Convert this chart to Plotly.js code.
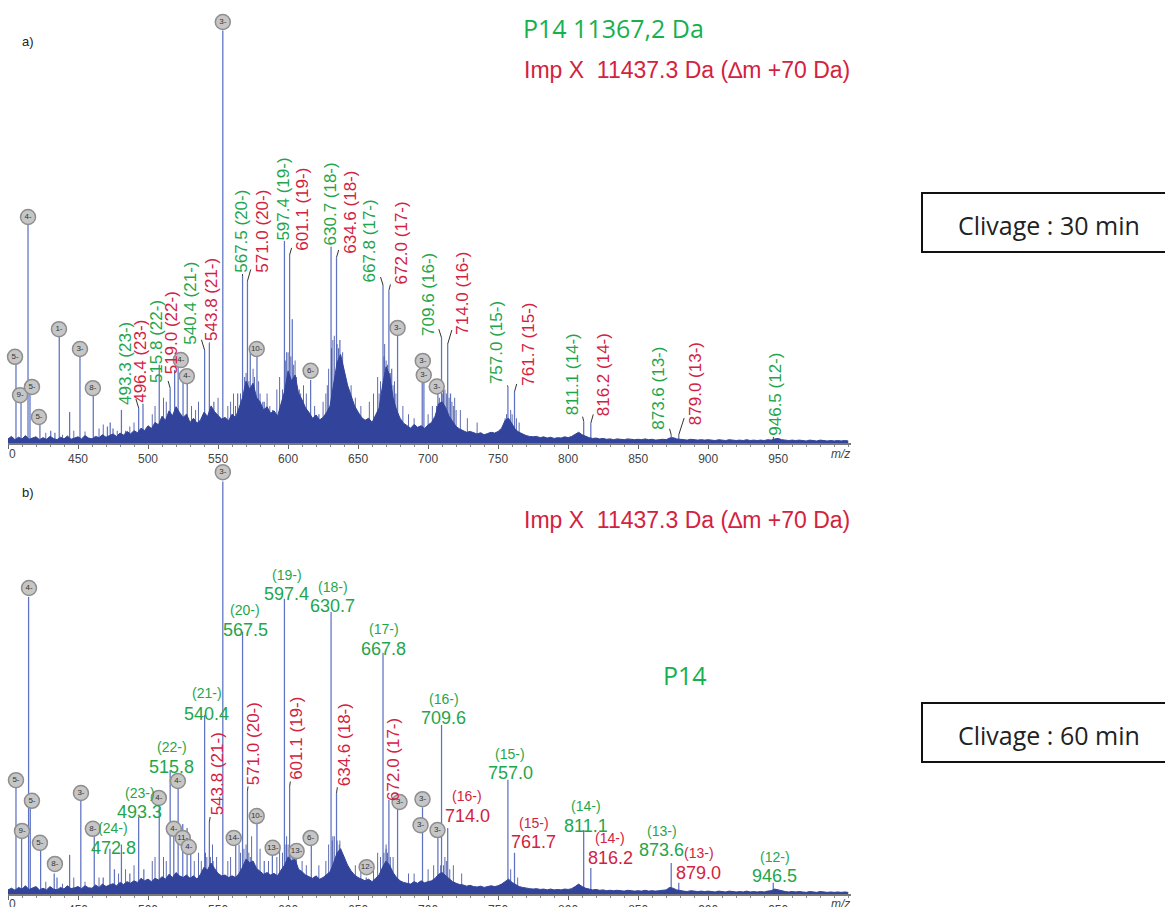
<!DOCTYPE html>
<html>
<head>
<meta charset="utf-8">
<script src="https://cdn.plot.ly/plotly-3.0.1.min.js"></script>
<style>html,body{margin:0;padding:0;background:#fff;}#chart{width:1165px;height:907px;}</style>
</head>
<body>
<div id="chart"></div>
<script>
// ---------- Data (m/z, relative intensity %) ----------
// Panel a) — cleavage 30 min
const peaksA_mz  = [405.7,409.3,414.3,415.7,422.8,430.5,433.5,436.6,444,451.4,460.9,471,473,475,481,484,493.3,496.4,500,508,515.8,519,521.5,525,528,540.4,543.8,547,553.4,564,567.5,571,573,577.8,582,589,597.4,601.1,603,607,616.1,622,630.7,634.6,637,642,667.8,672,674,678.2,695.8,697,707,709.6,714,716,757,761.7,811.1,816.2,873.6,879,946.5];
const peaksA_int = [19.4,10,53,12,4.4,3,2.5,25.7,7.5,21,11.6,4,5,3.5,8,3,8.5,9.5,4,19,13.3,17.7,18.4,16.5,14.5,22.5,24.2,10,100,12,40.5,39.3,22,21.8,10,8,49,45.6,30,12,15.3,7,47.6,45,25,10,38.3,37,18,26,19.6,15,15,25.5,24,12,13.6,12.4,5.3,4.8,2,2,1];
const minorA_mz  = [427,439,447,455,465,468,478,487,490,503,505,511,513,531,534,536,550,557,559,561,575,579,585,592,594,599,605,611,613,619,625,627,632,639,645,648,652,658,661,664,669,676,682,686,690,700,703,711,719,723,728,735,
                    562.5,566,569,570,572,574,576,580,583,587,596,598,600,602,604,606,608,609,628,629,631,633,635,636,638,640,641,643,665,666,668.5,670,671,673,675,677,706,708,710.5,712,713,715,717,718,720,755,756,759,760,763,765];
const minorA_int = [2.5,2,3,2.8,3.5,4.5,3,4,5,7,9,11,10,9,8,10,11,9,10,12,18,15,12,13,16,22,20,14,12,9,10,12,25,22,14,11,9,10,12,16,24,15,9,7,6,7,9,13,11,8,6,5,
                    9,12,16,17,15,13,16,12,10,9,13,20,22,21,19,16,13,12,14,18,23,26,24,23,20,17,15,13,12,15,21,20,19,17,14,12,9,11,12,13,12,11,10,9,8,6,7,8,7,6,5];
// baseline / unresolved envelope, sampled every 2.5 m/z from 400 to 1000
const envA = [
 1.0,1.6,0.8,1.4,1.0,1.8,0.9,1.2,1.5,0.8,
 1.3,0.9,1.6,1.1,0.8,1.4,1.0,1.7,0.9,1.2,
 1.5,1.0,1.8,1.2,1.0,1.6,1.3,2.0,1.4,1.8,
 2.2,1.6,2.4,1.9,2.8,2.2,3.0,2.5,3.6,3.0,
 4.2,3.5,5.0,4.4,6.5,5.5,7.8,6.6,8.8,7.4,
 6.2,7.0,5.0,6.0,4.8,5.6,7.5,6.4,9.0,7.6,
 6.8,5.8,6.2,5.4,7.0,6.2,8.5,11.0,15.0,13.0,
 14.5,11.0,10.0,8.0,8.8,7.2,7.8,6.5,9.5,12.5,
 17.5,15.0,16.5,12.0,10.5,8.5,7.4,6.0,6.8,5.6,
 6.2,7.4,9.0,14.0,19.5,21.5,18.0,14.0,11.5,9.0,
 7.5,6.2,5.5,6.0,5.0,6.8,8.5,14.0,18.5,16.5,
 11.0,8.0,6.0,4.8,4.2,3.6,4.5,3.8,4.2,3.5,
 4.4,5.0,6.5,9.5,10.0,8.6,6.5,5.2,4.0,3.4,
 3.0,2.6,2.8,2.4,2.2,2.5,2.0,2.3,2.6,2.4,
 2.8,3.6,5.5,6.0,4.5,3.2,2.6,2.2,1.8,1.6,
 1.5,1.6,1.3,1.5,1.2,1.4,1.1,1.3,1.2,1.5,
 1.3,1.6,2.2,2.6,2.0,1.6,1.3,1.1,1.2,1.0,
 1.1,0.9,1.0,0.8,1.0,0.9,0.8,1.0,0.9,0.8,
 0.9,0.8,1.0,0.8,0.9,0.7,0.8,0.9,0.8,1.2,
 1.3,1.0,0.9,0.8,0.7,0.9,0.8,0.7,0.8,0.7,
 0.8,0.7,0.6,0.8,0.7,0.6,0.8,0.7,0.6,0.7,
 0.6,0.8,0.6,0.7,0.6,0.7,0.6,0.8,0.7,1.0,
 1.1,0.8,0.7,0.6,0.7,0.6,0.7,0.6,0.5,0.7,
 0.6,0.5,0.7,0.6,0.5,0.6,0.5,0.6,0.5,0.6,
 0.5];

// Panel b) — cleavage 60 min
const peaksB_mz  = [405.7,409.7,414.7,415.9,423.3,433,435,444,452,461.6,468,472.8,476,481,487,493.3,497,508,515.8,518.4,521.5,524.8,527.9,530.5,540.4,543.8,553.4,562.6,567.5,571,577.8,583,588.8,597.4,601.1,605.9,616.6,630.7,634.6,643,655.8,667.8,672,678.2,696,707,709.6,714,757,761.7,811.1,816.2,873.6,879,946.5];
const peaksB_int = [26,14,72,22,10.7,5,4,9.5,23,14,4,11,6,12,5,18.7,6,21,30,16,26,17,16,13,43.4,17.5,100,13,63.6,25,18.7,8,10,71.6,26,10,12.4,68.4,24.5,6,4,58.5,22.8,21,21,14,41,16,27.7,10,15.5,6.3,7.5,2.7,2.7];
const minorB_mz  = [427,439,447,455,465,479,484,490,503,505,511,513,533,536,546,549,557,559,565,574,580,586,592,594,599,603,610,613,622,627,632,637,640,648,652,661,664,670,675,686,690,700,704,712,718,724,759,764,
                    538,541,542,544.5,546.5,566,568.5,570,572,573,596,598.5,600,602,604,629,631.5,633,635,636.5,638,666,668.5,670,671,673,709,711,713,715.5];
const minorB_int = [3,2.5,4,3,4,5,6,7,8,9,9,8,8,10,12,9,8,9,12,14,11,8,9,12,14,12,8,7,7,8,14,13,9,7,6,7,10,12,9,5,5,6,7,9,7,5,6,4,
                    8,10,9,9,8,10,11,12,10,9,10,12,12,11,9,12,13,14,13,12,10,9,10,11,10,9,7,7,8,6];
const envB = [
 1.0,1.4,0.9,1.6,1.2,2.0,1.1,1.5,1.8,1.0,
 1.4,1.0,1.8,1.2,1.0,1.6,1.2,2.0,1.3,1.5,
 1.8,1.3,2.0,1.5,1.4,2.2,1.6,2.4,1.8,2.2,
 2.5,2.0,2.8,2.3,3.0,2.6,3.2,2.8,3.8,3.2,
 3.6,3.0,3.8,3.4,4.2,3.6,4.8,4.0,5.2,4.4,
 4.0,4.6,3.8,4.4,3.6,4.8,6.5,5.8,7.5,6.2,
 5.0,4.4,4.6,4.0,4.4,4.0,5.0,6.5,8.5,7.6,
 8.0,6.2,5.6,4.8,5.2,4.6,5.0,4.4,5.8,7.0,
 9.0,8.0,8.4,6.0,5.4,4.6,4.2,3.8,4.4,3.6,
 4.0,4.6,5.4,7.5,10.0,11.0,9.0,7.0,5.6,4.6,
 4.0,3.6,3.2,3.6,3.0,3.8,4.6,6.5,8.0,7.0,
 5.2,4.0,3.2,2.8,2.6,2.4,3.0,2.6,3.2,2.7,
 3.0,3.2,3.8,4.8,5.2,4.4,3.6,3.0,2.6,2.3,
 2.2,1.9,2.1,1.8,1.7,1.9,1.6,1.8,2.0,1.8,
 2.0,2.4,3.0,3.6,2.8,2.2,1.8,1.6,1.4,1.3,
 1.2,1.3,1.1,1.2,1.0,1.2,1.0,1.1,1.0,1.2,
 1.1,1.3,1.8,2.4,1.8,1.4,1.2,1.0,1.1,0.9,
 1.0,0.8,0.9,0.8,0.9,0.8,0.7,0.9,0.8,0.7,
 0.8,0.7,0.9,0.7,0.8,0.7,0.8,0.9,1.0,1.6,
 1.4,1.0,0.8,0.7,0.6,0.8,0.7,0.6,0.7,0.6,
 0.7,0.6,0.5,0.7,0.6,0.5,0.7,0.6,0.5,0.6,
 0.5,0.7,0.5,0.6,0.5,0.6,0.5,0.7,0.8,1.2,
 1.0,0.7,0.6,0.5,0.6,0.5,0.6,0.5,0.4,0.6,
 0.5,0.4,0.6,0.5,0.4,0.5,0.4,0.5,0.4,0.5,
 0.4];

const tickVals = [400,450,500,550,600,650,700,750,800,850,900,950];

// Peak labels, panel a (vertical): [text, colour, label m/z, label intensity, peak m/z, peak intensity]
const labelsA = [
 ["493.3 (23-)","g",483.5,19.4,493.3,8.5],
 ["496.4 (23-)","r",494.6,19.8,496.4,9.5],
 ["515.8 (22-)","g",506.5,24.5,515.8,13.3],
 ["519.0 (22-)","r",516.7,26.7,519.0,17.7],
 ["540.4 (21-)","g",530.3,33.9,540.4,22.5],
 ["543.8 (21-)","r",545.3,34.8,543.8,24.2],
 ["567.5 (20-)","g",566.2,51.4,567.5,40.5],
 ["571.0 (20-)","r",581.2,51.4,571.0,39.3],
 ["597.4 (19-)","g",596.9,59.2,597.4,49],
 ["601.1 (19-)","r",610.4,56.7,601.1,45.6],
 ["630.7 (18-)","g",630.4,58,630.7,47.6],
 ["634.6 (18-)","r",644,56,634.6,45],
 ["667.8 (17-)","g",658.2,49,667.8,38.3],
 ["672.0 (17-)","r",681,48.5,672.0,37],
 ["709.6 (16-)","g",699.8,36.1,709.6,25.5],
 ["714.0 (16-)","r",724.8,36.4,714.0,24],
 ["757.0 (15-)","g",749,24.4,757.0,13.6],
 ["761.7 (15-)","r",771.1,24,761.7,12.4],
 ["811.1 (14-)","g",802.8,16.7,811.1,5.3],
 ["816.2 (14-)","r",825.8,16.5,816.2,4.8],
 ["873.6 (13-)","g",864.6,13.3,873.6,2],
 ["879.0 (13-)","r",890.7,14.3,879.0,2],
 ["946.5 (12-)","g",948.3,11.9,946.5,1]
];
// Peak labels, panel b (horizontal): [charge, m/z text, colour, label m/z, charge-line intensity, value-line intensity]
const labelsB = [
 ["(24-)","472.8","g",475.1,16.0,11.2],
 ["(23-)","493.3","g",494.2,24.5,19.9],
 ["(22-)","515.8","g",517.0,35.6,30.8],
 ["(21-)","540.4","g",541.9,48.7,43.6],
 ["(20-)","567.5","g",569.4,68.9,64.0],
 ["(19-)","597.4","g",599.0,77.4,72.7],
 ["(18-)","630.7","g",631.8,74.4,69.8],
 ["(17-)","667.8","g",668.5,64.3,59.4],
 ["(16-)","709.6","g",711.0,47.3,42.7],
 ["(16-)","714.0","r",728.1,23.8,18.9],
 ["(15-)","757.0","g",758.8,33.9,29.3],
 ["(15-)","761.7","r",775.5,17.2,12.6],
 ["(14-)","811.1","g",812.6,21.3,16.5],
 ["(14-)","816.2","r",830.1,13.6,8.7],
 ["(13-)","873.6","g",866.8,15.3,10.7],
 ["(13-)","879.0","r",893.2,9.9,5.1],
 ["(12-)","946.5","g",947.5,9.0,4.4]
];
// Vertical red labels, panel b
const labelsBrot = [
 ["543.8 (21-)","r",549.5,29.1,543.8,17.5],
 ["571.0 (20-)","r",575.5,36.5,571.0,25],
 ["601.1 (19-)","r",605.9,37.7,601.1,26],
 ["634.6 (18-)","r",639.9,36.3,634.6,24.5],
 ["672.0 (17-)","r",674.8,32.7,672.0,22.8]
];
// Charge-state markers (grey discs): [m/z, intensity, text]
const circA = [[405.0,20.9,"5-"],[408.6,11.6,"9-"],[414.3,54.8,"4-"],[417.1,13.6,"5-"],[422.1,6.3,"5-"],[436.4,27.6,"1-"],[451.4,22.8,"3-"],[460.6,13.3,"8-"],[523.4,20.1,"4-"],[527.7,16.2,"4-"],[553.4,102.1,"3-"],[577.6,22.8,"10-"],[616.1,17.5,"6-"],[678.2,27.9,"3-"],[696.2,19.9,"3-"],[696.9,16.5,"3-"],[706.2,13.7,"3-"]];
const circB = [[553.4,102.3,"3-"],[415.0,74.2,"4-"],[405.7,27.6,"5-"],[417.1,22.6,"5-"],[410.0,15.3,"9-"],[422.8,12.4,"5-"],[433.5,7.3,"8-"],[452.1,24.5,"3-"],[460.6,15.8,"8-"],[507.7,23.3,"4-"],[521.3,27.4,"4-"],[518.4,15.8,"4-"],[524.8,13.6,"11-"],[529.1,11.4,"4-"],[561.2,13.6,"14-"],[577.6,18.9,"10-"],[589.0,11.2,"13-"],[606.1,10.4,"13-"],[616.1,13.6,"6-"],[656.1,6.5,"12-"],[679.6,22.3,"3-"],[696.0,23.0,"3-"],[694.6,16.7,"3-"],[706.7,15.5,"3-"]];

// ---------- Styling ----------
const GREEN = "#1fa64c", RED = "#d3223f", NAVY = "#31439a", PEAK = "#5f73c3";
const col = c => c === "g" ? GREEN : RED;
const LBL = "Liberation Sans, Arial, sans-serif";

function spectrumTraces(xa, ya, env, pmz, pint, mmz, mint) {
  return [
    {type:"bar", x:pmz, y:pint, width:0.9, marker:{color:PEAK, line:{width:0}}, xaxis:xa, yaxis:ya, hoverinfo:"x+y"},
    {type:"bar", x:mmz, y:mint, width:0.6, marker:{color:"#3f51a3", line:{width:0}}, xaxis:xa, yaxis:ya, hoverinfo:"x+y"},
    {type:"scatter", mode:"lines", x0:400, dx:2.5, y:env, fill:"tozeroy", fillcolor:NAVY,
     line:{color:NAVY, width:1}, xaxis:xa, yaxis:ya, hoverinfo:"skip"}
  ];
}
function circleTrace(xa, ya, circ) {
  return {type:"scatter", mode:"markers+text", x:circ.map(c=>c[0]), y:circ.map(c=>c[1]), text:circ.map(c=>c[2]),
    textposition:"middle center", textfont:{size:8, color:"#333", family:LBL},
    marker:{size:15, color:"#c6c6c6", line:{color:"#8e8e8e", width:1.5}},
    cliponaxis:false, xaxis:xa, yaxis:ya, hoverinfo:"skip"};
}

const data = [
  ...spectrumTraces("x","y",envA,peaksA_mz,peaksA_int,minorA_mz,minorA_int),
  ...spectrumTraces("x2","y2",envB,peaksB_mz,peaksB_int,minorB_mz,minorB_int),
  circleTrace("x","y",circA),
  circleTrace("x2","y2",circB)
];

const annotations = [];
function rotLabel(l, xr, yr) {
  annotations.push({xref:xr, yref:yr, axref:xr, ayref:yr, x:l[4], y:l[5], ax:l[2], ay:l[3],
    text:l[0], textangle:-90, font:{family:LBL, size:17, color:col(l[1])},
    showarrow:true, arrowhead:0, arrowwidth:1, arrowcolor:"#333", standoff:0, startstandoff:0});
}
labelsA.forEach(l => rotLabel(l, "x", "y"));
labelsBrot.forEach(l => rotLabel(l, "x2", "y2"));
labelsB.forEach(l => {
  annotations.push({xref:"x2", yref:"y2", x:l[3], y:l[4], text:l[0], showarrow:false,
    xanchor:"center", yanchor:"middle", font:{family:LBL, size:14, color:col(l[2])}});
  annotations.push({xref:"x2", yref:"y2", x:l[3], y:l[5], text:l[1], showarrow:false,
    xanchor:"center", yanchor:"middle", font:{family:LBL, size:18, color:col(l[2])}});
});
const P = (px) => px / 1165, Q = (py) => 1 - py / 907;
function paperText(px, py, text, font) {
  annotations.push({xref:"paper", yref:"paper", x:P(px), y:Q(py), text:text, showarrow:false,
    xanchor:"center", yanchor:"middle", font:font});
}
paperText(613, 28, "P14 11367,2 Da", {family:"Open Sans", size:25, color:"#17b04f"});
paperText(687, 70, "Imp X \u00a011437.3 Da (\u2206m +70 Da)", {family:LBL, size:23, color:RED});
paperText(687, 520, "Imp X \u00a011437.3 Da (\u2206m +70 Da)", {family:LBL, size:23, color:RED});
paperText(685, 675, "P14", {family:"Open Sans", size:25, color:"#17b04f"});
paperText(28, 42, "a)", {family:LBL, size:13, color:"#222"});
paperText(28, 492, "b)", {family:LBL, size:13, color:"#222"});
paperText(840, 454, "<i>m/z</i>", {family:LBL, size:12, color:"#444"});
paperText(840, 904, "<i>m/z</i>", {family:LBL, size:12, color:"#444"});
// left-most tick label, cut by the figure edge in the original ("400" -> "0")
paperText(12, 454, "0", {family:LBL, size:12, color:"#444"});
paperText(12, 904, "0", {family:LBL, size:12, color:"#444"});
paperText(1049, 225, "Clivage : 30 min", {family:"Open Sans", size:25, color:"#222"});
paperText(1049, 735, "Clivage : 60 min", {family:"Open Sans", size:25, color:"#222"});

const shapes = [
  {type:"rect", xref:"paper", yref:"paper", x0:P(922), x1:P(1170), y0:Q(252), y1:Q(193), line:{color:"#111", width:2}},
  {type:"rect", xref:"paper", yref:"paper", x0:P(922), x1:P(1170), y0:Q(762), y1:Q(703), line:{color:"#111", width:2}}
];

function xAxis(anchor) {
  return {domain:[P(8), P(851)], range:[400, 1002], anchor:anchor, showgrid:false, zeroline:false,
    showline:true, linecolor:"#7a7a7a", linewidth:2, ticks:"outside", ticklen:4, tickcolor:"#666",
    tickmode:"array", tickvals:tickVals, ticktext:tickVals.map(v => v === 400 ? "" : String(v)),
    tickfont:{family:LBL, size:12, color:"#444"},
    minor:{dtick:10, tick0:400, ticks:"outside", ticklen:2, tickcolor:"#888"}};
}
function yAxis(anchor, dom) {
  return {domain:dom, range:[0, 105], anchor:anchor, visible:false, fixedrange:true};
}

const layout = {
  width:1165, height:907, margin:{l:0, r:0, t:0, b:0},
  paper_bgcolor:"#fff", plot_bgcolor:"rgba(0,0,0,0)", showlegend:false, barmode:"overlay",
  xaxis: xAxis("y"), yaxis: yAxis("x", [Q(443), Q(10)]),
  xaxis2: xAxis("y2"), yaxis2: yAxis("x2", [Q(894), Q(461)]),
  annotations: annotations, shapes: shapes, font:{family:LBL}
};

Plotly.newPlot("chart", data, layout, {displayModeBar:false, staticPlot:true});
</script>
</body>
</html>
